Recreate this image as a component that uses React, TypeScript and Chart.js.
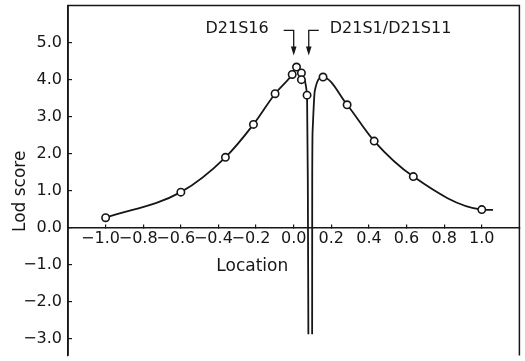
import React, { useEffect, useRef } from "react";
import { Chart, registerables } from "chart.js";

Chart.register(...registerables);

// Observed LOD scores (open circles)
const pointX = [-1.0, -0.6, -0.363, -0.214, -0.099, -0.008, 0.015, 0.041, 0.041, 0.071, 0.156, 0.284, 0.428, 0.636, 1.0];
const pointY = [0.27, 0.96, 1.9, 2.79, 3.62, 4.14, 4.34, 4.18, 4.0, 3.58, 4.07, 3.32, 2.34, 1.38, 0.49];

// Fitted curve, left of the break
const leftCurveX = [-1.0, -0.6, -0.363, -0.214, -0.099, -0.008, 0.015, 0.041, 0.071, 0.075, 0.078];
const leftCurveY = [0.27, 0.96, 1.9, 2.79, 3.62, 4.14, 4.34, 4.09, 3.58, 1.3, -2.88];

// Fitted curve, right of the break
const rightCurveX = [0.098, 0.0985, 0.101, 0.112, 0.156, 0.284, 0.428, 0.636, 1.0, 1.06];
const rightCurveY = [-2.88, 1.33, 2.66, 3.69, 4.07, 3.32, 2.34, 1.38, 0.49, 0.48];

// Marker loci
const markerX = [0.0, 0.08];
const markerLabels = ["D21S16", "D21S1/D21S11"];

// Tick values
const xTickValues = [-1.0, -0.8, -0.6, -0.4, -0.2, 0.0, 0.2, 0.4, 0.6, 0.8, 1.0];
const yTickValues = [-3, -2, -1, 0, 1, 2, 3, 4, 5];

const xTitle = "Location";
const yTitle = "Lod score";

const INK = "#161616";
const FONT = "'DejaVu Sans', sans-serif";

const fmt = (v: number) => {
  const s = Math.abs(v).toFixed(1);
  return v < -1e-9 ? "\u2212" + s : s;
};

const annotationPlugin = {
  id: "annotations",
  afterDatasetsDraw(chart: any) {
    const { ctx, chartArea, scales } = chart;
    const xs = scales.x;
    const ys = scales.y;
    ctx.save();
    ctx.strokeStyle = INK;
    ctx.fillStyle = INK;
    // frame
    ctx.lineWidth = 1.5;
    ctx.beginPath();
    ctx.moveTo(chartArea.left, chartArea.bottom);
    ctx.lineTo(chartArea.left, chartArea.top);
    ctx.lineTo(chartArea.right, chartArea.top);
    ctx.lineTo(chartArea.right, chartArea.bottom);
    ctx.stroke();
    // marker arrows
    const stubY = ys.getPixelForValue(5.33);
    const tipY = ys.getPixelForValue(4.65);
    markerX.forEach((mx, i) => {
      const px = xs.getPixelForValue(mx);
      const dir = i === 0 ? -1 : 1;
      ctx.lineWidth = 1.3;
      ctx.beginPath();
      ctx.moveTo(px + dir * 10, stubY);
      ctx.lineTo(px, stubY);
      ctx.lineTo(px, tipY - 6);
      ctx.stroke();
      ctx.beginPath();
      ctx.moveTo(px - 2.8, tipY - 9);
      ctx.lineTo(px + 2.8, tipY - 9);
      ctx.lineTo(px, tipY);
      ctx.closePath();
      ctx.fill();
      ctx.font = "16px " + FONT;
      ctx.textBaseline = "alphabetic";
      ctx.textAlign = i === 0 ? "right" : "left";
      ctx.fillText(markerLabels[i], px + dir * (i === 0 ? 25 : 21), stubY + 3);
    });
    // x axis title
    ctx.font = "17px " + FONT;
    ctx.textAlign = "center";
    ctx.textBaseline = "alphabetic";
    ctx.fillText(xTitle, xs.getPixelForValue(-0.22), ys.getPixelForValue(0) + 43);
    ctx.restore();
  },
};

export default function App() {
  const ref = useRef<HTMLCanvasElement | null>(null);

  useEffect(() => {
    document.body.style.margin = "0";
    Chart.defaults.font.family = FONT;
    const canvas = ref.current;
    if (!canvas) return;
    const chart = new Chart(canvas, {
      type: "line",
      data: {
        datasets: [
          {
            label: "Observed",
            data: pointX.map((x, i) => ({ x, y: pointY[i] })),
            showLine: false,
            pointRadius: 3.7,
            pointBorderWidth: 1.6,
            pointBorderColor: INK,
            pointBackgroundColor: "#ffffff",
            order: 0,
          },
          {
            label: "Fit (left)",
            data: leftCurveX.map((x, i) => ({ x, y: leftCurveY[i] })),
            borderColor: INK,
            borderWidth: 1.8,
            pointRadius: 0,
            fill: false,
            cubicInterpolationMode: "monotone",
            order: 1,
          },
          {
            label: "Fit (right)",
            data: rightCurveX.map((x, i) => ({ x, y: rightCurveY[i] })),
            borderColor: INK,
            borderWidth: 1.8,
            pointRadius: 0,
            fill: false,
            cubicInterpolationMode: "monotone",
            order: 1,
          },
        ],
      },
      options: {
        animation: false,
        responsive: false,
        devicePixelRatio: 1,
        layout: { padding: { top: 4, right: 2, bottom: 1, left: 0 } },
        plugins: { legend: { display: false }, tooltip: { enabled: false } },
        scales: {
          x: {
            type: "linear",
            position: { y: 0 },
            min: -1.2,
            max: 1.2,
            afterBuildTicks: (s: any) => {
              s.ticks = xTickValues.map((v) => ({ value: v }));
            },
            afterFit: (s: any) => {
              s.paddingLeft = 0;
              s.paddingRight = 0;
            },
            grid: { drawOnChartArea: false, drawTicks: true, tickLength: -4, color: INK, lineWidth: 1.2 },
            border: { display: true, color: INK, width: 1.5 },
            ticks: {
              autoSkip: false,
              maxRotation: 0,
              minRotation: 0,
              padding: 6,
              color: INK,
              font: { size: 16, family: FONT },
              callback: (v: any) => {
                const n = Number(v);
                return n < -1e-9 ? fmt(n) + "  " : fmt(n);
              },
            },
          },
          y: {
            type: "linear",
            position: "left",
            min: -3.45,
            max: 6,
            afterBuildTicks: (s: any) => {
              s.ticks = yTickValues.map((v) => ({ value: v }));
            },
            afterFit: (s: any) => {
              s.width = 68;
              s.paddingTop = 0;
              s.paddingBottom = 0;
            },
            grid: { drawOnChartArea: false, drawTicks: true, tickLength: -4, color: INK, lineWidth: 1.2 },
            border: { display: true, color: INK, width: 1.5 },
            ticks: {
              padding: 10,
              color: INK,
              font: { size: 16, family: FONT },
              callback: (v: any) => fmt(Number(v)),
            },
            title: {
              display: true,
              text: yTitle + "    ",
              color: INK,
              font: { size: 17, family: FONT },
              padding: { top: 10, bottom: 0 },
            },
          },
        },
      },
      plugins: [annotationPlugin],
    } as any);
    return () => chart.destroy();
  }, []);

  return <canvas ref={ref} width={525} height={361} style={{ display: "block" }} />;
}
